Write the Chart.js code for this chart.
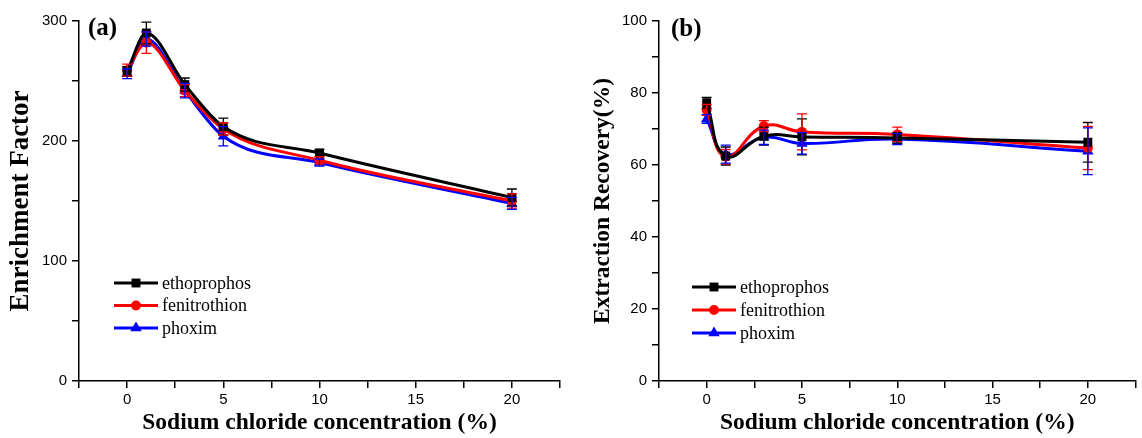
<!DOCTYPE html>
<html>
<head>
<meta charset="utf-8">
<script src="https://cdn.jsdelivr.net/npm/chart.js@4.4.0/dist/chart.umd.min.js"></script>
<style>
  body { margin: 0; background: #fff; }
  #wrap { position: relative; width: 1142px; height: 438px; }
  #chartA { position: absolute; left: 0; top: 0; }
  #chartB { position: absolute; left: 580px; top: 0; }
</style>
</head>
<body>
<div id="wrap">
  <canvas id="chartA" width="580" height="438"></canvas>
  <canvas id="chartB" width="562" height="438"></canvas>
</div>
<script>
const nacl = [0, 1, 3, 5, 10, 20];
const names = ["ethoprophos", "fenitrothion", "phoxim"];
const xTicks = [0, 5, 10, 15, 20];

// (a) enrichment factor
const efEtho = [258, 290, 247, 212, 190, 153];
const efFeni = [259, 282, 242, 210, 184, 150];
const efPhox = [256, 285, 242, 204, 182, 148];
const efEthoErr = [4, 9, 5.5, 7, 3, 7];
const efFeniErr = [5, 9, 5, 5, 3, 6];
const efPhoxErr = [4, 6, 6, 8, 3, 5];
const efTicks = [0, 100, 200, 300];

// (b) extraction recovery
const erEtho = [77.3, 62.5, 68, 67.8, 67.5, 66.3];
const erFeni = [75.3, 62.3, 70.8, 69.2, 68.5, 64.7];
const erPhox = [72.8, 63, 67.7, 66, 67.2, 63.8];
const erEthoErr = [1.5, 2.5, 2.5, 5, 1.5, 5.5];
const erFeniErr = [1.5, 2, 1.5, 5, 2, 6];
const erPhoxErr = [1.2, 2.5, 2, 3, 1.5, 6.5];
const erTicks = [0, 20, 40, 60, 80, 100];

const colors = ["#000000", "#ff0000", "#0000ff"];
const styles = ["rect", "circle", "triangle"];
const radii = [6.3, 5, 6.5];

// vertical error bars with caps, drawn from the y scale
const errorBars = {
  id: "errorBars",
  afterDatasetsDraw(chart) {
    const ctx = chart.ctx;
    const ys = chart.scales.y;
    chart.data.datasets.forEach((ds, i) => {
      const meta = chart.getDatasetMeta(i);
      ctx.save();
      ctx.strokeStyle = ds.borderColor;
      ctx.lineWidth = 1.3;
      meta.data.forEach((pt, j) => {
        const v = ds.data[j].y, e = ds.errors[j];
        const top = ys.getPixelForValue(v + e);
        const bot = ys.getPixelForValue(v - e);
        ctx.beginPath();
        ctx.moveTo(pt.x, top); ctx.lineTo(pt.x, bot);
        ctx.moveTo(pt.x - 5, top); ctx.lineTo(pt.x + 5, top);
        ctx.moveTo(pt.x - 5, bot); ctx.lineTo(pt.x + 5, bot);
        ctx.stroke();
      });
      ctx.restore();
    });
  }
};

// legend inside the plot: line segment with the symbol in the middle
const innerLegend = {
  id: "innerLegend",
  afterDraw(chart, args, opts) {
    const ctx = chart.ctx;
    ctx.save();
    ctx.font = "18px 'Liberation Serif'";
    ctx.textBaseline = "middle";
    chart.data.datasets.forEach((ds, i) => {
      const y = opts.y + i * opts.gap;
      ctx.strokeStyle = ds.borderColor;
      ctx.lineWidth = 3;
      ctx.beginPath();
      ctx.moveTo(opts.x, y);
      ctx.lineTo(opts.x + 44, y);
      ctx.stroke();
      ctx.fillStyle = ds.borderColor;
      Chart.helpers.drawPoint(ctx, {
        pointStyle: ds.pointStyle, radius: ds.pointRadius, rotation: 0, borderWidth: 0
      }, opts.x + 22, y);
      ctx.fillStyle = "#000";
      ctx.fillText(ds.label, opts.x + 48, y + 1);
    });
    ctx.restore();
  }
};

const panelLabel = {
  id: "panelLabel",
  afterDraw(chart, args, opts) {
    const ctx = chart.ctx;
    ctx.save();
    ctx.font = "bold 25px 'Liberation Serif'";
    ctx.fillStyle = "#000";
    ctx.textBaseline = "middle";
    ctx.fillText(opts.text, opts.x, opts.y);
    ctx.restore();
  }
};

function series(values, errs, i, curve) {
  return Object.assign({
    label: names[i],
    data: nacl.map((x, k) => ({ x: x, y: values[k] })),
    errors: errs,
    borderColor: colors[i],
    backgroundColor: colors[i],
    borderWidth: 3,
    pointStyle: styles[i],
    pointRadius: radii[i],
    pointBorderWidth: 0
  }, curve);
}

function makePanel(id, opt) {
  return new Chart(document.getElementById(id), {
    type: "line",
    data: { datasets: opt.datasets },
    plugins: [errorBars, innerLegend, panelLabel],
    options: {
      responsive: false,
      animation: false,
      devicePixelRatio: 1,
      layout: { padding: { left: 0, right: opt.padRight, top: 21, bottom: 0 } },
      plugins: {
        legend: { display: false },
        tooltip: { enabled: false },
        innerLegend: opt.legend,
        panelLabel: opt.label
      },
      scales: {
        x: {
          type: "linear",
          min: -2.5, max: 22.5,
          afterBuildTicks: (s) => {
            s.ticks = [];
            for (let v = -2.5; v <= 22.5; v += 2.5) s.ticks.push({ value: v });
          },
          afterFit: (s) => { s.height = 57; },
          border: { color: "#000", width: 1.5 },
          grid: { drawOnChartArea: false, color: "#000", lineWidth: 1.5, tickLength: 7 },
          ticks: {
            autoSkip: false, maxRotation: 0, padding: 3, color: "#000",
            font: { family: "'Liberation Sans'", size: 15 },
            callback: (v) => xTicks.includes(v) ? v : ""
          },
          title: {
            display: true, text: "Sodium chloride concentration (%)", color: "#000",
            font: { family: "'Liberation Serif'", size: 23.5, weight: "bold" },
            padding: { top: 0, bottom: 1 }
          }
        },
        y: {
          min: 0, max: opt.yMax,
          afterBuildTicks: (s) => {
            s.ticks = [];
            for (let v = 0; v <= opt.yMax; v += opt.yMinor) s.ticks.push({ value: v });
          },
          afterFit: (s) => { s.width = 79; },
          border: { color: "#000", width: 1.5 },
          grid: { drawOnChartArea: false, color: "#000", lineWidth: 1.5, tickLength: 7 },
          ticks: {
            padding: 5, color: "#000",
            font: { family: "'Liberation Sans'", size: 15 },
            callback: (v) => opt.yTicks.includes(v) ? v : ""
          },
          title: {
            display: true, text: opt.yTitle, color: "#000",
            font: { family: "'Liberation Serif'", size: opt.yTitleSize, weight: "bold" },
            padding: { top: opt.yTitlePad, bottom: 0 }
          }
        }
      }
    }
  });
}

const smoothA = { cubicInterpolationMode: "monotone" };
const smoothB = { tension: 0.45 };

makePanel("chartA", {
  datasets: [
    series(efEtho, efEthoErr, 0, smoothA),
    series(efFeni, efFeniErr, 1, smoothA),
    series(efPhox, efPhoxErr, 2, smoothA)
  ],
  yMax: 300, yMinor: 50, yTicks: efTicks,
  yTitle: "Enrichment Factor", yTitleSize: 27, yTitlePad: 5,
  padRight: 20,
  legend: { x: 114, y: 283, gap: 22.5 },
  label: { text: "(a)", x: 88, y: 29 }
});

makePanel("chartB", {
  datasets: [
    series(erEtho, erEthoErr, 0, smoothB),
    series(erFeni, erFeniErr, 1, smoothB),
    series(erPhox, erPhoxErr, 2, smoothB)
  ],
  yMax: 100, yMinor: 10, yTicks: erTicks,
  yTitle: "Extraction Recovery(%)", yTitleSize: 23.5, yTitlePad: 9,
  padRight: 0,
  legend: { x: 112, y: 287, gap: 23 },
  label: { text: "(b)", x: 91, y: 30 }
});
</script>
</body>
</html>
